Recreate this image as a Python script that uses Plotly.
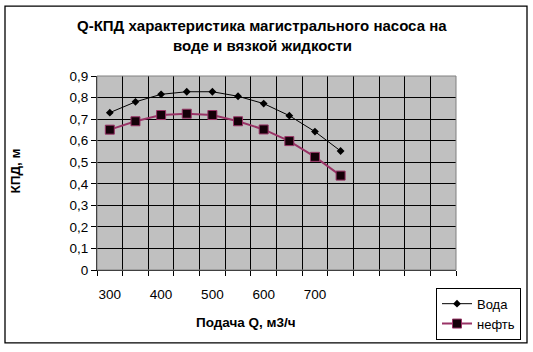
import plotly.graph_objects as go

q = [300, 350, 400, 450, 500, 550, 600, 650, 700, 750]
voda = [0.73, 0.78, 0.815, 0.827, 0.827, 0.806, 0.772, 0.716, 0.642, 0.552]
neft = [0.651, 0.69, 0.719, 0.725, 0.719, 0.69, 0.652, 0.598, 0.525, 0.438]
x_ticks = [300, 400, 500, 600, 700]
y_ticks = [0, 0.1, 0.2, 0.3, 0.4, 0.5, 0.6, 0.7, 0.8, 0.9]

font = "Liberation Sans, Arial, sans-serif"

W, H = 533, 352
L, R, T, B = 97, 456, 76, 273
pw, ph = R - L, B - T


def px(xp):
    return (xp - L) / pw


def py(yp):
    return (B - yp) / ph


fig = go.Figure()
fig.add_trace(go.Scatter(
    x=q, y=voda, name="Вода", mode="lines+markers",
    line=dict(color="black", width=1),
    marker=dict(symbol="diamond", size=6, color="black"),
))
fig.add_trace(go.Scatter(
    x=q, y=neft, name="нефть", mode="lines+markers",
    line=dict(color="#993366", width=2),
    marker=dict(symbol="square", size=9, color="#140008",
                line=dict(color="#993366", width=1)),
))

fig.update_layout(
    width=W, height=H,
    margin=dict(l=L, r=W - R, t=T, b=H - B),
    paper_bgcolor="white",
    plot_bgcolor="#c0c0c0",
    separators=", ",
    font=dict(family=font, size=13, color="black"),
    showlegend=True,
    legend=dict(
        x=px(436), xanchor="left", y=py(291), yanchor="top",
        xref="paper", yref="paper",
        bgcolor="white", bordercolor="black", borderwidth=1,
        font=dict(size=13, family=font),
        itemwidth=30, tracegroupgap=2,
    ),
    shapes=[dict(type="rect", xref="paper", yref="paper",
                 x0=px(5), x1=px(527), y0=py(347), y1=py(5),
                 line=dict(color="black", width=1.3), fillcolor="rgba(0,0,0,0)",
                 layer="below"),
            dict(type="rect", xref="paper", yref="paper", x0=0, x1=1, y0=0, y1=1,
                 line=dict(color="#808080", width=1), fillcolor="rgba(0,0,0,0)")],
    annotations=[
        dict(text="<b>Q-КПД характеристика магистрального насоса на</b>",
             x=px(262), y=py(25), xref="paper", yref="paper",
             xanchor="center", yanchor="middle", showarrow=False,
             font=dict(size=15, family=font)),
        dict(text="<b>воде и вязкой жидкости</b>",
             x=px(262), y=py(45), xref="paper", yref="paper",
             xanchor="center", yanchor="middle", showarrow=False,
             font=dict(size=15, family=font)),
        dict(text="<b>Подача Q, м3/ч</b>",
             x=px(246), y=py(326), xref="paper", yref="paper",
             xanchor="center", yanchor="middle", showarrow=False,
             font=dict(size=13.5, family=font)),
        dict(text="<b>КПД, м</b>", textangle=-90,
             x=px(16), y=py(173), xref="paper", yref="paper",
             xanchor="center", yanchor="middle", showarrow=False,
             font=dict(size=13.5, family=font)),
    ],
)

fig.update_xaxes(
    range=[275, 975],
    tickmode="array", tickvals=x_ticks, ticktext=[str(v) for v in x_ticks],
    ticks="", showgrid=False, zeroline=False,
    showline=True, linecolor="black", linewidth=1,
    tickfont=dict(size=13.5, family=font),
    ticklabelstandoff=12,
    minor=dict(tick0=325, dtick=50, showgrid=True, gridcolor="black", gridwidth=1,
               ticks="outside", ticklen=5, tickcolor="black"),
)
fig.update_yaxes(
    range=[0, 0.9],
    tickmode="array", tickvals=y_ticks,
    ticktext=[("%g" % v).replace(".", ",") for v in y_ticks],
    showgrid=True, gridcolor="black", gridwidth=1,
    zeroline=False,
    ticks="outside", ticklen=5, tickcolor="black",
    showline=True, linecolor="black", linewidth=1,
    tickfont=dict(size=13.5, family=font),
)

fig.write_html("out.html")
